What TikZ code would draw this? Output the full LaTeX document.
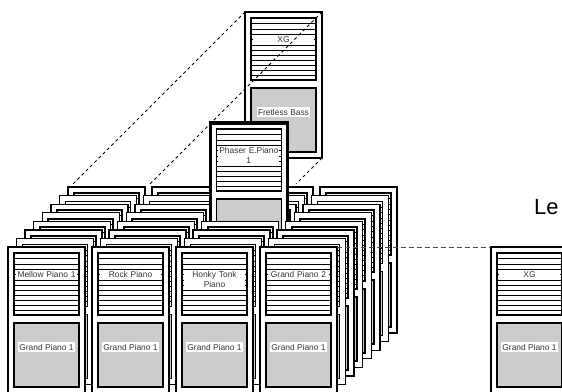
\documentclass[tikz,border=0pt]{standalone}
\usepackage{fontspec}
\setmainfont{Liberation Sans}
\newcommand\cardfont{\fontsize{8.4pt}{9.8pt}\selectfont}
\newcommand\headfont{\fontsize{22pt}{26pt}\selectfont}
\newcommand\cardbody{%
  \draw[cardframe] (0,0) rectangle (77,146);
  \draw[stripepanel] (6,6) rectangle (71,68);
  \foreach \s in {5.5,11,16.5,21.5,27,32,37,42,47,52,57}
    \draw[stripe] (6,6+\s) -- (71,6+\s);
  \draw[tonepanel] (6,76) rectangle (71,140);
}
\tikzset{
  cardframe/.style={draw, fill=white, line width=1.3pt},
  stripepanel/.style={draw, line width=1.6pt},
  tonepanel/.style={draw, fill=black!20, line width=1.6pt},
  stripe/.style={line width=0.7pt},
  namelabel/.style={fill=white, text=black!80, font=\cardfont, text width=61pt,
    align=center, inner xsep=0pt, inner ysep=1.5pt, anchor=north},
  tonelabel/.style={fill=white, text=black!80, font=\cardfont, inner sep=1.5pt},
  guide/.style={line width=0.8pt, dash pattern=on 3pt off 3pt},
  link/.style={line width=0.8pt, black!70, dash pattern=on 5pt off 3pt},
  pics/blankcard/.style={code={\cardbody}},
  pics/card/.style 2 args={code={
    \cardbody
    \coordinate (-nw) at (0,0);
    \coordinate (-ne) at (77,0);
    \coordinate (-se) at (77,146);
    \node (-name) [namelabel] at (38.5,22.5) {#1};
    \node (-tone) [tonelabel] at (38.5,100) {#2};
  }},
}
\begin{document}
\begin{tikzpicture}[x=1pt,y=-1pt]
  \useasboundingbox (0,0) rectangle (562,391);

  % enlarged card
  \pic (zoom) at (245,12) {card={XG}{Fretless Bass}};
  \coordinate (tip1) at (73,184);
  \coordinate (tip2) at (150,184);
  \coordinate (tip3) at (296,184);
  \draw[guide] (zoom-nw) -- (tip1);
  \draw[guide] (zoom-ne) -- (tip2);
  \draw[guide] (zoom-se) -- (tip3);

  % stack, back to front
  \foreach \k in {7,6,5}
    \foreach \c in {0,...,3}
      \pic at ({8+84*\c+8.57*\k},{247-8.57*\k}) {blankcard};
  \foreach \c in {0,1,3}
    \pic at ({8+84*\c+8.57*4},{247-8.57*4}) {blankcard};
  \pic[cardframe/.append style={line width=3.5pt}] (phaser) at (210.3,123) {card={Phaser E.Piano\\1}{}};
  \foreach \k in {3,2,1}
    \foreach \c in {0,...,3}
      \pic at ({8+84*\c+8.57*\k},{247-8.57*\k}) {blankcard};

  % front row
  \pic (front1) at (8,247) {card={Mellow Piano 1}{Grand Piano 1}};
  \pic (front2) at (92,247) {card={Rock Piano}{Grand Piano 1}};
  \pic (front3) at (176,247) {card={Honky Tonk\\Piano}{Grand Piano 1}};
  \pic (front4) at (260,247) {card={Grand Piano 2}{Grand Piano 1}};

  % single card
  \pic (single) at (491,247) {card={XG}{Grand Piano 1}};
  \draw[link] (front4-ne) -- (single-nw);

  \node (caption) [anchor=base west, font=\headfont, inner sep=0pt] at (534,214) {Le};
\end{tikzpicture}
\end{document}
